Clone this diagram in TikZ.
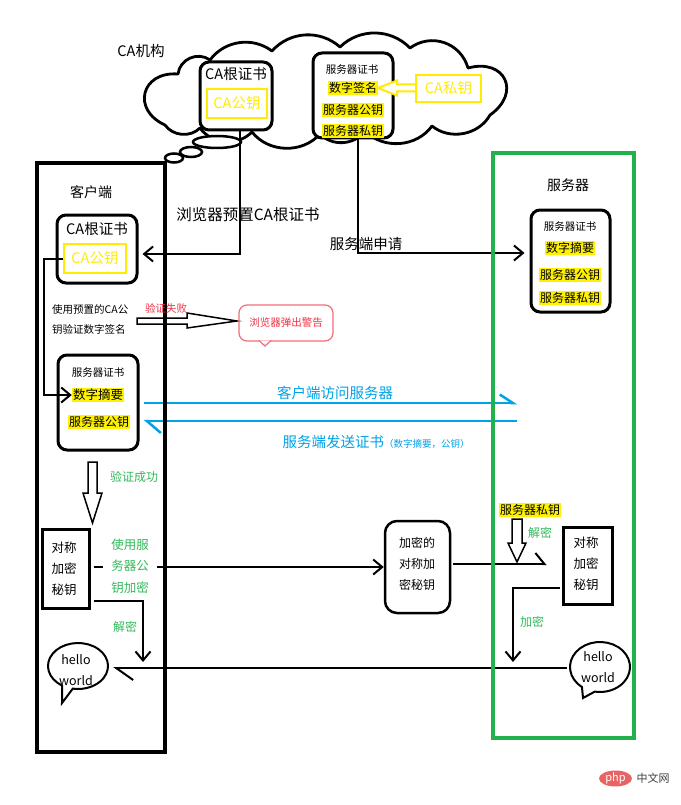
\documentclass[tikz,border=0pt]{standalone}
\usepackage{fontspec}
\setmainfont{Noto Sans CJK SC}
\usetikzlibrary{arrows.meta,shapes.geometric}
\definecolor{yel}{RGB}{255,236,0}
\definecolor{hly}{RGB}{255,242,0}
\definecolor{grn}{RGB}{34,177,76}
\definecolor{gtx}{RGB}{50,185,90}
\definecolor{blu}{RGB}{0,162,232}
\definecolor{rtx}{RGB}{240,50,70}
\definecolor{rbd}{RGB}{240,110,120}
\definecolor{phpred}{RGB}{232,100,100}
\begin{document}
\begin{tikzpicture}[x=1pt,y=-1pt,
  t/.style 2 args={font=\fontsize{#1}{#2}\selectfont, inner sep=0pt, align=center},
  hl/.style={fill=hly, inner sep=1pt, font=\fontsize{#1}{#1}\selectfont},
  rbox/.style={draw, line width=3pt, rounded corners=9pt, fill=white, inner sep=0pt},
  ybox/.style={draw=yel, line width=2.5pt, text=yel, inner sep=0pt, font=\fontsize{14.5}{17}\selectfont},
  sqbox/.style={draw, line width=3pt, inner sep=0pt},
  conn/.style={line width=2pt},
  bline/.style={draw=blu, line width=2.5pt},
  vtip/.style={-{Straight Barb[length=9pt, width=15pt]}},
  hollow/.style={draw, line width=1.5pt, fill=white, line join=miter},
  bub/.style={draw, line width=2pt, fill=white},
]
\useasboundingbox[fill=white] (0,0) rectangle (680,805);

% ---- CA cloud ----
\draw[line width=2.8pt, fill=white, line join=round]
  (165,125) to[bend left=80, looseness=1.8] (178,74)
  to[bend left=60, looseness=1.1] (210,60)
  to[bend left=45] (272,51)
  to[bend left=45] (340,47)
  to[bend left=45] (410,48)
  to[bend left=55, looseness=1.1] (468,68)
  to[bend left=80, looseness=1.9] (490,115)
  to[bend left=50] (432,126)
  to[bend left=50] (365,131)
  to[bend left=50] (320,134)
  to[bend left=50] (252,132)
  to[bend left=50] (200,128)
  to[bend left=50] (165,125);
\draw[line width=2.5pt, fill=white] (217,142) ellipse [x radius=24, y radius=6];
\draw[line width=2.5pt, fill=white] (191,152) ellipse [x radius=11, y radius=5];
\draw[line width=2.5pt, fill=white] (174,158) ellipse [x radius=9, y radius=4.5];

\node[t={14.5}{17}] (calabel) at (141,51) {CA机构};

\node[rbox, minimum width=72, minimum height=68] (caroot) at (236,96) {};
\node[t={14.5}{17}] (carootT) at (236,74) {CA根证书};
\node[ybox, minimum width=60, minimum height=29] (capub) at (237,103.5) {CA公钥};

\node[rbox, minimum width=80, minimum height=85] (scert) at (353,95.5) {};
\node[t={10.5}{12}] (scertT) at (352,70) {服务器证书};
\node[hl={12}] (sig) at (353,88) {数字签名};
\node[hl={12}] (spub0) at (353,110) {服务器公钥};
\node[hl={12}] (spriv0) at (353,131) {服务器私钥};

\node[ybox, minimum width=65, minimum height=27] (capriv) at (448.5,88.5) {CA私钥};
\draw[hollow, draw=yel, line width=2pt] (378,88) -- (397,80.5) -- (397,84.5) -- (416,84.5) -- (416,91.5) -- (397,91.5) -- (397,95.5) -- cycle;

% ---- client inner boxes ----
\node[rbox, minimum width=80, minimum height=68] (cca) at (97,249) {};
\node[t={14.5}{17}] (ccaT) at (97,229) {CA根证书};
\node[ybox, minimum width=62, minimum height=29] (ccapub) at (95,258.5) {CA公钥};

\node[rbox, minimum width=80, minimum height=95] (ccert) at (98,402.5) {};
\node[t={10.5}{12}] (ccertT) at (98,373) {服务器证书};
\node[hl={12.5}] (cdig) at (98,395) {数字摘要};
\node[hl={12}] (cspub) at (99,422) {服务器公钥};

\node[sqbox, minimum width=47, minimum height=79] (ckey) at (65.5,568.5) {};
\node[t={12.5}{21}] (ckeyT) at (64,569) {对称\\加密\\秘钥};

% ---- server inner boxes ----
\node[rbox, minimum width=79, minimum height=102] (srvcert) at (570.5,261) {};
\node[t={10.5}{12}] (srvcertT) at (570,227) {服务器证书};
\node[hl={12}] (sdig) at (570,248) {数字摘要};
\node[hl={12}] (spub) at (570,275) {服务器公钥};
\node[hl={12}] (spriv) at (570,298) {服务器私钥};

\node[sqbox, minimum width=49, minimum height=77] (skey) at (587.5,565.5) {};
\node[t={12.5}{21}] (skeyT) at (586,564) {对称\\加密\\秘钥};

\node[rbox, line width=2.5pt, rounded corners=12pt, minimum width=65, minimum height=92] (enc) at (417.5,567) {};
\node[t={12}{21}] (encT) at (417,564) {加密的\\对称加\\密秘钥};

% ---- connectors ----
\coordinate (j1) at (240,254);
\draw[conn, vtip, shorten >=4pt] (caroot.south -| j1) -- (j1) -- (cca.east |- j1);
\coordinate (j2) at (358,253);
\draw[conn, vtip, shorten >=5pt] (scert.south -| j2) -- (j2) -- (srvcert.west |- j2);
\draw[conn, vtip] (ccapub.west) -- ++(-19,0) |- (cdig.west);

\coordinate (bR1) at (517,403);
\coordinate (bR2) at (517,421);
\draw[bline, -{Straight Barb[harpoon, length=13pt, width=17pt]}, shorten <=4pt] (ccert.east |- bR1) -- (bR1);
\draw[bline, -{Straight Barb[harpoon, length=14pt, width=24pt]}, shorten >=4pt] (bR2) -- (ccert.east |- bR2);

\coordinate (k1) at (0,567);
\draw[conn, vtip, shorten <=3pt] (ckey.east |- k1) -- (enc.west |- k1);
\coordinate (cdec) at (143,662);
\draw[conn, vtip, shorten <=3pt] (ckey.east |- 0,601) -| (cdec);
\coordinate (k2) at (0,564);
\draw[conn, -{Straight Barb[harpoon, length=9pt, width=22pt]}, shorten <=2pt, shorten >=15pt] (enc.east |- k2) -- (skey.west |- k2);
\coordinate (senc) at (513,662);
\draw[conn, vtip, shorten <=2pt] (skey.west |- 0,588) -| (senc);

% hollow arrows
\draw[hollow] (137,318) -- (187,318) -- (187,313) -- (237,321) -- (187,328) -- (187,324) -- (137,324) -- cycle;
\draw[hollow] (88,462) -- (97,462) -- (97,493) -- (102,493) -- (92.5,523) -- (83,493) -- (88,493) -- cycle;
\node[hl={12}] (spriv2) at (530,510) {服务器私钥};
\draw[hollow] (512,519) -- (522,519) -- (522,543) -- (526,543) -- (517,562) -- (508,543) -- (512,543) -- cycle;

% speech bubbles
\coordinate (cb) at (78,666);
\draw[bub] (cb) ++(122:30 and 23) arc[start angle=122, end angle=460, x radius=30, y radius=23] -- (62,703) -- cycle;
\node[t={12.5}{21}] (chello) at (76,670.5) {hello\\world};
\coordinate (sb) at (600,667);
\draw[bub] (sb) ++(127:30 and 25) arc[start angle=127, end angle=460, x radius=30, y radius=25] -- (583,698) -- cycle;
\node[t={12.5}{21}] (shello) at (598,667.5) {hello\\world};
\coordinate (sbw) at (567,668);
\coordinate (cbe) at (113,668);
\draw[conn, -{Straight Barb[harpoon, length=17pt, width=24pt]}] (sbw) -- (cbe);

% ---- frames ----
\node[draw, line width=4.5pt, minimum width=128, minimum height=589, inner sep=0pt] (client) at (101,457.5) {};
\node[draw=grn, line width=4.5pt, minimum width=141, minimum height=585, inner sep=0pt] (server) at (563.5,445.5) {};

% ---- labels ----
\node[t={14}{16}] (clientT) at (91,192) {客户端};
\node[t={14}{16}] (serverT) at (568,185) {服务器};
\node[t={15.5}{18}] (preset) at (248,215) {浏览器预置CA根证书};
\node[t={14.5}{17}] (apply) at (366,244) {服务端申请};
\node[t={10.5}{20}, align=left, anchor=west] (usepre) at (52,320) {使用预置的CA公\\钥验证数字签名};
\node[t={10.5}{12}, text=rtx] (fail) at (166,308) {验证失败};
\node[draw=rbd, line width=1.2pt, rounded corners=8pt, minimum width=94, minimum height=36, inner sep=0pt, text=rtx, font=\fontsize{10.5}{12}\selectfont] (warn) at (286,323) {浏览器弹出警告};
\draw[draw=rbd, line width=1.2pt, fill=white] (259,340.5) -- (265,346) -- (271,340.5);
\node[t={14.5}{17}, text=blu] (visit) at (335,393) {客户端访问服务器};
\node[text=blu, inner sep=0pt] (send) at (376,442) {\fontsize{14.5}{17}\selectfont 服务端发送证书\fontsize{9.5}{11}\selectfont （数字摘要，公钥）};
\node[t={12}{14}, text=gtx] (ok) at (134,477) {验证成功};
\node[t={12.5}{21.5}, text=gtx, fill=white, inner xsep=8pt] (usekey) at (130,566) {使用服\\务器公\\钥加密};
\node[t={12}{14}, text=gtx] (dec1) at (125,627) {解密};
\node[t={12}{14}, text=gtx] (dec2) at (540,533) {解密};
\node[t={12}{14}, text=gtx] (enc2) at (532,622) {加密};

% watermark
\node[ellipse, fill=phpred, minimum width=33, minimum height=14, inner sep=0pt, text=white, font=\fontsize{11}{12}\selectfont] (php) at (615.5,778.5) {php};
\node[t={11}{12}, text=black!75] (phpcn) at (653,778.5) {中文网};
\end{tikzpicture}
\end{document}
